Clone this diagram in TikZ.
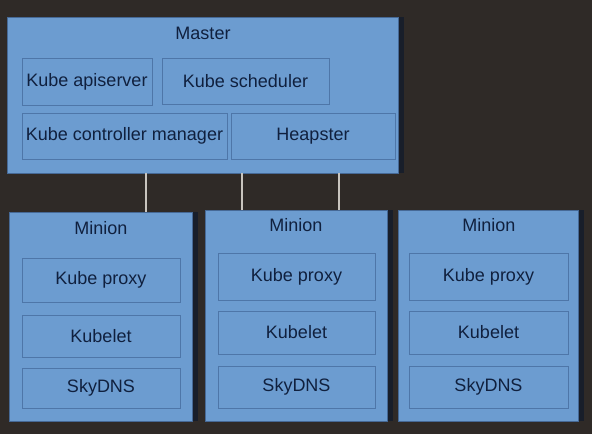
\documentclass[tikz,border=0pt]{standalone}
\usepackage{fontspec}
\setmainfont{Liberation Sans}
\usetikzlibrary{shadows}
\definecolor{bgc}{RGB}{47,42,39}
\definecolor{boxfill}{RGB}{108,156,208}
\definecolor{boxline}{RGB}{78,118,168}
\definecolor{outline}{RGB}{70,105,150}
\definecolor{txt}{RGB}{16,32,62}
\definecolor{wire}{RGB}{200,196,190}
\definecolor{shade}{RGB}{24,30,42}
\begin{document}
\begin{tikzpicture}[x=1pt,y=-1pt,
  outerbox/.style={draw=outline,line width=0.8pt,fill=boxfill,inner sep=0pt,
    drop shadow={shadow xshift=6pt,shadow yshift=0pt,fill=shade,opacity=1}},
  innerbox/.style={draw=boxline,line width=0.8pt,fill=boxfill,inner sep=0pt,
    text=txt,font=\fontsize{18}{21}\selectfont},
  lbl/.style={text=txt,font=\fontsize{18}{21}\selectfont,inner sep=0pt},
  wireline/.style={draw=wire,line width=2pt}]
\fill[bgc] (0,0) rectangle (592,434);
\useasboundingbox (0,0) rectangle (592,434);

% Master
\node[outerbox,minimum width=391pt,minimum height=156pt] (master) at (202.5,95) {};
\node[lbl] (mlbl) at (203,33) {Master};
\node[innerbox,minimum width=130pt,minimum height=47pt] (api) at (87,81.5) {Kube apiserver};
\node[innerbox,minimum width=167pt,minimum height=46pt] (sched) at (245.5,81) {Kube scheduler};
\node[innerbox,minimum width=205pt,minimum height=46pt] (ctrl) at (124.5,136) {Kube controller manager};
\node[innerbox,minimum width=164pt,minimum height=46pt] (heap) at (313,136) {Heapster};

% Minion 1
\node[outerbox,minimum width=183pt,minimum height=209pt] (m1) at (100.5,316.5) {};
\node[lbl] (m1l) at (101,228) {Minion};
\node[innerbox,minimum width=158pt,minimum height=44pt] (m1p) at (101,280) {Kube proxy};
\node[innerbox,minimum width=158pt,minimum height=42pt] (m1k) at (101,336) {Kubelet};
\node[innerbox,minimum width=158pt,minimum height=40pt] (m1d) at (101,388) {SkyDNS};

% Minion 2
\node[outerbox,minimum width=182pt,minimum height=211pt] (m2) at (296,315.5) {};
\node[lbl] (m2l) at (296,225) {Minion};
\node[innerbox,minimum width=157pt,minimum height=47pt] (m2p) at (296.5,276.5) {Kube proxy};
\node[innerbox,minimum width=157pt,minimum height=43pt] (m2k) at (296.5,332.5) {Kubelet};
\node[innerbox,minimum width=157pt,minimum height=42pt] (m2d) at (296.5,387) {SkyDNS};

% Minion 3
\node[outerbox,minimum width=180pt,minimum height=211pt] (m3) at (488,315.5) {};
\node[lbl] (m3l) at (489,225) {Minion};
\node[innerbox,minimum width=159pt,minimum height=47pt] (m3p) at (488.5,276.5) {Kube proxy};
\node[innerbox,minimum width=159pt,minimum height=43pt] (m3k) at (488.5,332.5) {Kubelet};
\node[innerbox,minimum width=159pt,minimum height=42pt] (m3d) at (488.5,387) {SkyDNS};

% Connectors
\coordinate (c1) at (146,0);
\coordinate (c2) at (242,0);
\coordinate (c3) at (339,0);
\draw[wireline] (c1 |- master.south) -- (c1 |- m1.north);
\draw[wireline] (c2 |- master.south) -- (c2 |- m2.north);
\draw[wireline] (c3 |- master.south) -- (c3 |- m2.north);
\end{tikzpicture}
\end{document}
